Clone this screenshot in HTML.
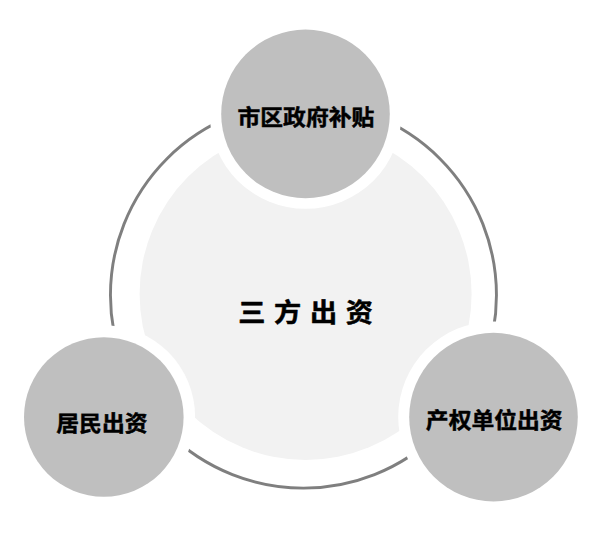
<!DOCTYPE html>
<html lang="zh-CN">
<head>
<meta charset="utf-8">
<title>三方出资</title>
<style>
html,body{margin:0;padding:0;background:#fff;}
body{width:610px;height:537px;overflow:hidden;position:relative;}
svg{display:block;position:absolute;left:0;top:0;}
text{font-family:"Liberation Sans","Noto Sans CJK SC",sans-serif;font-weight:bold;fill:#000;text-anchor:middle;}
</style>
</head>
<body>
<svg width="610" height="537" viewBox="0 0 610 537">
  <rect x="0" y="0" width="610" height="537" fill="#ffffff"/>
  <!-- outer ring -->
  <circle cx="303.45" cy="295.15" r="193" fill="none" stroke="#7f7f7f" stroke-width="2.9"/>
  <!-- inner light disc -->
  <circle cx="305.6" cy="294" r="166" fill="#f2f2f2"/>
  <!-- top node -->
  <circle cx="305.6" cy="112.8" r="96" fill="#ffffff"/>
  <circle cx="305.5" cy="113.9" r="84.3" fill="#bfbfbf"/>
  <!-- left node -->
  <circle cx="103.6" cy="416.8" r="91.5" fill="#ffffff"/>
  <circle cx="103.8" cy="417" r="79.8" fill="#bfbfbf"/>
  <!-- right node -->
  <circle cx="493.7" cy="417.1" r="95.5" fill="#ffffff"/>
  <circle cx="493.5" cy="417.1" r="84.3" fill="#bfbfbf"/>
  <g stroke="#000" stroke-width="0.5" stroke-linejoin="round">
  <text transform="translate(305.9 124.6) scale(1 0.94)" font-size="22.8">市区政府补贴</text>
  <text transform="translate(101.9 430.7) scale(1 0.94)" font-size="22.8">居民出资</text>
  <text transform="translate(494.2 427.8) scale(1 0.94)" font-size="22.8">产权单位出资</text>
  <text transform="translate(305.6 321.7) scale(1 0.95)" font-size="27.2" word-spacing="1.1" stroke-width="0.5">三 方 出 资</text>
  </g>
</svg>
</body>
</html>
